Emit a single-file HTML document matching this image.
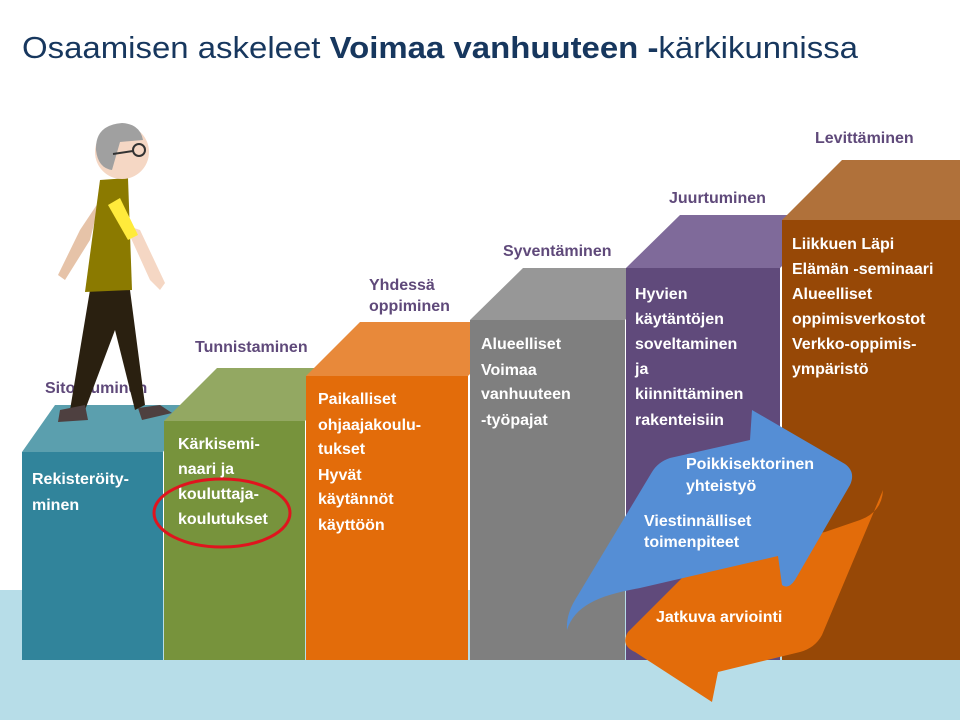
<!DOCTYPE html>
<html><head><meta charset="utf-8"><style>
html,body{margin:0;padding:0;background:#fff;}
svg{display:block;font-family:"Liberation Sans",sans-serif;}
.w{fill:#fff;font-weight:bold;font-size:16px;}
.l{fill:#5f497a;font-weight:bold;font-size:16px;}
</style></head><body>
<svg width="960" height="720" viewBox="0 0 960 720">
<rect x="0" y="0" width="960" height="720" fill="#fff"/>
<text x="22" y="58" font-size="31" fill="#17375e" textLength="836" lengthAdjust="spacingAndGlyphs">Osaamisen askeleet <tspan font-weight="bold">Voimaa vanhuuteen -</tspan>kärkikunnissa</text>
<rect x="0" y="590" width="960" height="130" fill="#b7dde8"/>
<polygon points="22,452 55,405 196,405 163,452" fill="#5b9fae"/>
<rect x="22" y="452" width="141" height="208" fill="#31849b"/>
<polygon points="164,421 217,368 358,368 305,421" fill="#93a862"/>
<rect x="164" y="421" width="141" height="239" fill="#77933c"/>
<polygon points="306,376 360,322 522,322 468,376" fill="#e8893a"/>
<rect x="306" y="376" width="162" height="284" fill="#e36c0a"/>
<polygon points="470,320 523,268 678,268 625,320" fill="#979797"/>
<rect x="470" y="320" width="155" height="340" fill="#7f7f7f"/>
<polygon points="626,268 680,215 834,215 780,268" fill="#7f6a9a"/>
<rect x="626" y="268" width="154" height="392" fill="#604a7b"/>
<polygon points="782,220 842,160 960,160 960,220" fill="#b0713a"/>
<rect x="782" y="220" width="178" height="440" fill="#974806"/>
<text class="l" x="45" y="393">Sitoutuminen</text>
<text class="l" x="195" y="352">Tunnistaminen</text>
<text class="l" x="369" y="290">Yhdessä</text>
<text class="l" x="369" y="311">oppiminen</text>
<text class="l" x="503" y="256">Syventäminen</text>
<text class="l" x="669" y="203">Juurtuminen</text>
<text class="l" x="815" y="143">Levittäminen</text>
<g>
<polygon points="100,200 80,230 58,275 65,280 90,240" fill="#e6c3a8"/>
<polygon points="125,225 150,280 160,290 165,283 140,230" fill="#f5d7c4"/>
<polygon points="90,290 130,290 145,405 135,410 115,330 85,410 70,410" fill="#2a2010"/>
<polygon points="60,410 85,405 88,420 58,422" fill="#4e4040"/>
<polygon points="138,408 160,405 172,413 142,420" fill="#4e4040"/>
<polygon points="100,180 128,178 132,290 85,292" fill="#8b7a00"/>
<polygon points="108,205 120,198 138,235 128,240" fill="#ffeb3b"/>
<circle cx="122" cy="152" r="27" fill="#f5d7c4"/>
<path d="M96,150 Q95,125 122,123 Q140,124 143,140 L120,142 L112,170 Q98,168 96,150Z" fill="#a0a0a0"/>
<circle cx="139" cy="150" r="6" fill="none" stroke="#333" stroke-width="2"/>
<line x1="113" y1="154" x2="133" y2="151" stroke="#333" stroke-width="2"/>
</g>
<text class="w" x="32" y="484">Rekisteröity-</text>
<text class="w" x="32" y="510">minen</text>
<text class="w" x="178" y="449">Kärkisemi-</text>
<text class="w" x="178" y="474">naari ja</text>
<text class="w" x="178" y="499">kouluttaja-</text>
<text class="w" x="178" y="524">koulutukset</text>
<ellipse cx="222" cy="513" rx="68" ry="34" fill="none" stroke="#e0141e" stroke-width="3"/>
<text class="w" x="318" y="404">Paikalliset</text>
<text class="w" x="318" y="430">ohjaajakoulu-</text>
<text class="w" x="318" y="454">tukset</text>
<text class="w" x="318" y="480">Hyvät</text>
<text class="w" x="318" y="504">käytännöt</text>
<text class="w" x="318" y="530">käyttöön</text>
<text class="w" x="481" y="349">Alueelliset</text>
<text class="w" x="481" y="375">Voimaa</text>
<text class="w" x="481" y="399">vanhuuteen</text>
<text class="w" x="481" y="425">-työpajat</text>
<text class="w" x="635" y="299">Hyvien</text>
<text class="w" x="635" y="324">käytäntöjen</text>
<text class="w" x="635" y="349">soveltaminen</text>
<text class="w" x="635" y="374">ja</text>
<text class="w" x="635" y="399">kiinnittäminen</text>
<text class="w" x="635" y="425">rakenteisiin</text>
<text class="w" x="792" y="249">Liikkuen Läpi</text>
<text class="w" x="792" y="274">Elämän -seminaari</text>
<text class="w" x="792" y="299">Alueelliset</text>
<text class="w" x="792" y="324">oppimisverkostot</text>
<text class="w" x="792" y="349">Verkko-oppimis-</text>
<text class="w" x="792" y="374">ympäristö</text>
<path d="M883,490 Q882,512 860,520 L825,532 L700,560 L628,632 Q620,645 635,652 L712,702 L718,672 L800,652 Q815,648 822,635 Z" fill="#e36c0a"/>
<path d="M567,630 C575,605 600,595 640,588 L778,556 L782,585 Q788,590 795,580 L850,485 Q856,472 845,464 L752,410 L750,440 L670,458 Q658,462 652,472 L575,600 Q566,615 567,630 Z" fill="#558ed5"/>
<text class="w" x="686" y="469" fill="#f2f2f2">Poikkisektorinen</text>
<text class="w" x="686" y="491">yhteistyö</text>
<text class="w" x="644" y="526">Viestinnälliset</text>
<text class="w" x="644" y="547">toimenpiteet</text>
<text class="w" x="656" y="622">Jatkuva arviointi</text>
</svg>
</body></html>
